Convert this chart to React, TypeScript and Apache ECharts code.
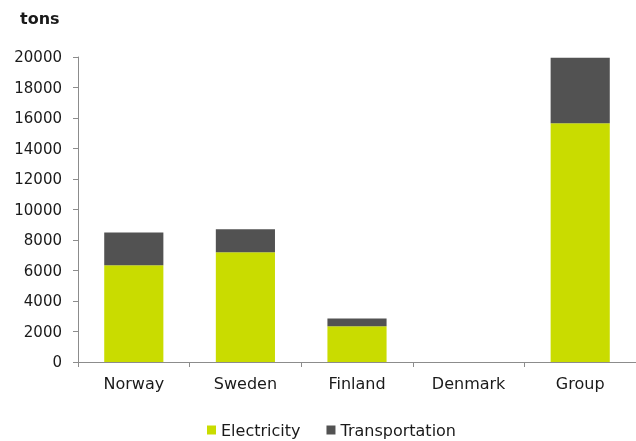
import React, { useEffect, useRef } from "react";
import * as echarts from "echarts";

const categories = ["Norway", "Sweden", "Finland", "Denmark", "Group"];
const electricity = [6350, 7200, 2350, 0, 15650];
const transportation = [2150, 1500, 500, 0, 4300];
const yTicks = { min: 0, max: 20000, interval: 2000 };

export default function App() {
  const ref = useRef<HTMLDivElement>(null);
  useEffect(() => {
    if (!ref.current) return;
    const chart = echarts.init(ref.current, null, { renderer: "svg" });
    const font = "DejaVu Sans, sans-serif";
    chart.setOption({
      animation: false,
      textStyle: { fontFamily: font },
      graphic: [
        {
          type: "text",
          left: 20,
          top: 10,
          style: { text: "tons", font: `bold 16px ${font}`, fill: "#1a1a1a" },
        },
      ],
      legend: {
        top: 422,
        left: 207,
        padding: 0,
        itemWidth: 9,
        itemHeight: 9,
        itemGap: 26,
        icon: "rect",
        textStyle: { fontSize: 16, color: "#1a1a1a", fontFamily: font },
        data: ["Electricity", "Transportation"],
      },
      grid: { left: 78, right: -4, top: 57, bottom: 79, containLabel: false },
      xAxis: {
        type: "category",
        data: categories,
        axisLine: { lineStyle: { color: "#8c8c8c", width: 1 } },
        axisTick: { show: true, alignWithLabel: false, length: 5, lineStyle: { color: "#8c8c8c" } },
        axisLabel: { color: "#1a1a1a", fontSize: 16, margin: 13, fontFamily: font },
      },
      yAxis: {
        type: "value",
        min: yTicks.min,
        max: yTicks.max,
        interval: yTicks.interval,
        splitLine: { show: false },
        axisLine: { show: true, lineStyle: { color: "#8c8c8c", width: 1 } },
        axisTick: { show: true, length: 5, lineStyle: { color: "#8c8c8c" } },
        axisLabel: {
          color: "#1a1a1a",
          fontSize: 15,
          margin: 16,
          fontFamily: font,
          formatter: (v: number) => String(v),
        },
      },
      series: [
        {
          name: "Electricity",
          type: "bar",
          stack: "total",
          data: electricity,
          barWidth: "53%",
          itemStyle: { color: "#c9dc00" },
        },
        {
          name: "Transportation",
          type: "bar",
          stack: "total",
          data: transportation,
          barWidth: "53%",
          itemStyle: { color: "#525252" },
        },
      ],
    });
    return () => chart.dispose();
  }, []);
  return (
    <div
      ref={ref}
      style={{ position: "fixed", left: 0, top: 0, width: 636, height: 441 }}
    />
  );
}
